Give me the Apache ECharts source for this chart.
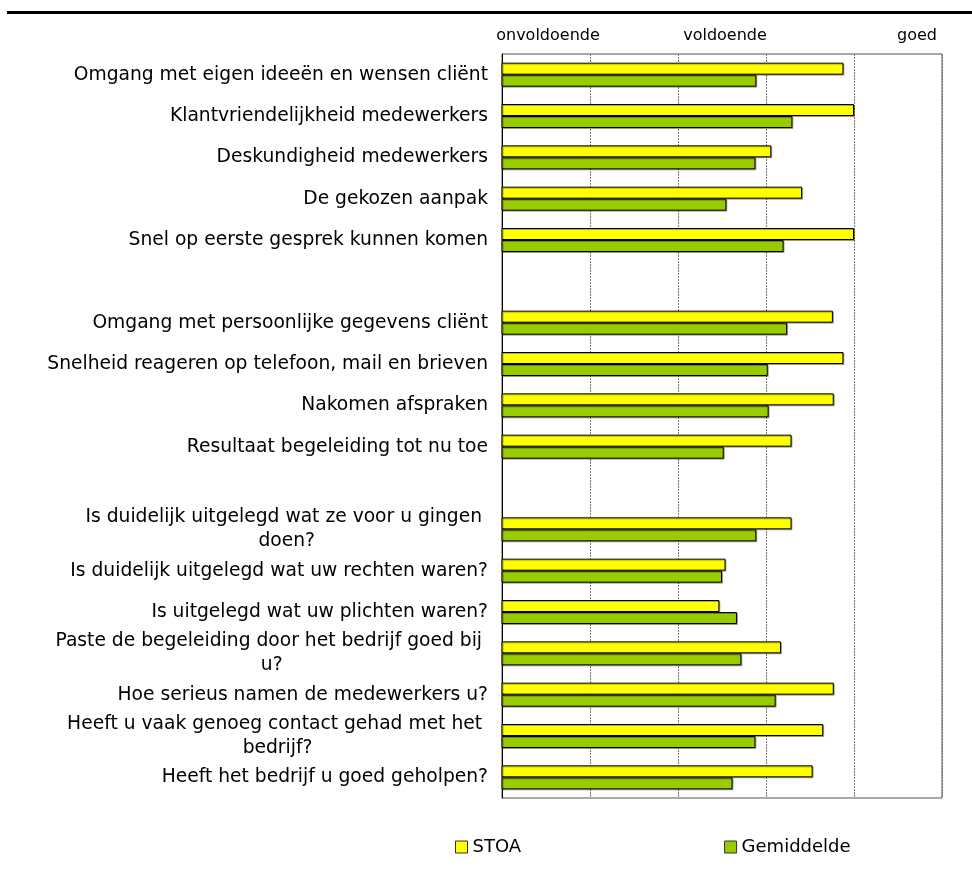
<!DOCTYPE html>
<html>
<head>
<meta charset="utf-8">
<script src="https://cdn.jsdelivr.net/npm/echarts@6/dist/echarts.min.js"></script>
<style>html,body{margin:0;padding:0;background:#fff;}#c{width:972px;height:885px;}</style>
</head>
<body>
<div id="c"></div>
<script>
var categories = [
  "Omgang met eigen ideeën en wensen cliënt",
  "Klantvriendelijkheid medewerkers",
  "Deskundigheid medewerkers",
  "De gekozen aanpak",
  "Snel op eerste gesprek kunnen komen",
  "",
  "Omgang met persoonlijke gegevens cliënt",
  "Snelheid reageren op telefoon, mail en brieven",
  "Nakomen afspraken",
  "Resultaat begeleiding tot nu toe",
  " ",
  "Is duidelijk uitgelegd wat ze voor u gingen \ndoen?",
  "Is duidelijk uitgelegd wat uw rechten waren?",
  "Is uitgelegd wat uw plichten waren?",
  "Paste de begeleiding door het bedrijf goed bij \nu?",
  "Hoe serieus namen de medewerkers u?",
  "Heeft u vaak genoeg contact gehad met het \nbedrijf?",
  "Heeft het bedrijf u goed geholpen?"
];
var stoa = [4.88, 5.00, 4.06, 4.41, 5.00, null, 4.76, 4.88, 4.77, 4.29, null, 4.29, 3.54, 3.47, 4.17, 4.77, 4.65, 4.53];
var gemiddelde = [3.89, 4.30, 3.88, 3.55, 4.20, null, 4.24, 4.02, 4.03, 3.52, null, 3.89, 3.50, 3.67, 3.72, 4.11, 3.88, 3.62];
var scaleLabels = ["onvoldoende", "voldoende", "goed"];
var seriesNames = ["STOA", "Gemiddelde"];

var FONT = "DejaVu Sans";
var chart = echarts.init(document.getElementById('c'), null, {renderer: 'canvas'});
var barShadow = {shadowColor: 'rgba(0,0,0,0.3)', shadowOffsetX: 1, shadowOffsetY: 1, shadowBlur: 0};
chart.setOption({
  animation: false,
  backgroundColor: '#fff',
  textStyle: {fontFamily: FONT},
  grid: {left: 502, right: 30, top: 54, bottom: 87, show: true, borderColor: '#555', borderWidth: 1},
  graphic: [
    {type: 'rect', shape: {x: 7, y: 11, width: 965, height: 3}, style: {fill: '#000'}},
    {type: 'text', x: 548, y: 36, style: {text: scaleLabels[0], font: '16px "' + FONT + '"', fill: '#000', align: 'center', verticalAlign: 'middle'}},
    {type: 'text', x: 725, y: 36, style: {text: scaleLabels[1], font: '16px "' + FONT + '"', fill: '#000', align: 'center', verticalAlign: 'middle'}},
    {type: 'text', x: 937, y: 36, style: {text: scaleLabels[2], font: '16px "' + FONT + '"', fill: '#000', align: 'right', verticalAlign: 'middle'}}
  ],
  legend: {
    data: seriesNames,
    left: 450, top: 833,
    itemWidth: 12, itemHeight: 12, itemGap: 203,
    icon: 'rect',
    textStyle: {fontFamily: FONT, fontSize: 18, color: '#000'},
    itemStyle: {borderColor: '#333', borderWidth: 1}
  },
  xAxis: {
    type: 'value', min: 1, max: 6, interval: 1,
    axisLabel: {show: false}, axisTick: {show: false},
    axisLine: {show: false},
    splitLine: {show: true, lineStyle: {color: '#777', type: [2, 1], width: 1}}
  },
  yAxis: {
    type: 'category', data: categories, inverse: true,
    axisTick: {show: false},
    axisLine: {show: true, lineStyle: {color: '#000', width: 1}},
    axisLabel: {
      margin: 14, align: 'right', color: '#000', fontFamily: FONT, fontSize: 18.7, lineHeight: 24,
      formatter: function (v) {
        return v.split('\n').map(function (l) { return '{c|' + l + '}'; }).join('\n');
      },
      rich: {c: {align: 'center', fontFamily: FONT, fontSize: 18.7, lineHeight: 24, color: '#000'}}
    }
  },
  series: [
    {name: seriesNames[0], type: 'bar', data: stoa, barWidth: 12, barGap: '0%',
     itemStyle: Object.assign({color: '#FFFF00', borderColor: '#000', borderWidth: 1}, barShadow)},
    {name: seriesNames[1], type: 'bar', data: gemiddelde, barWidth: 12, barGap: '0%',
     itemStyle: Object.assign({color: '#99CC00', borderColor: '#000', borderWidth: 1}, barShadow)}
  ]
});
</script>
</body>
</html>
